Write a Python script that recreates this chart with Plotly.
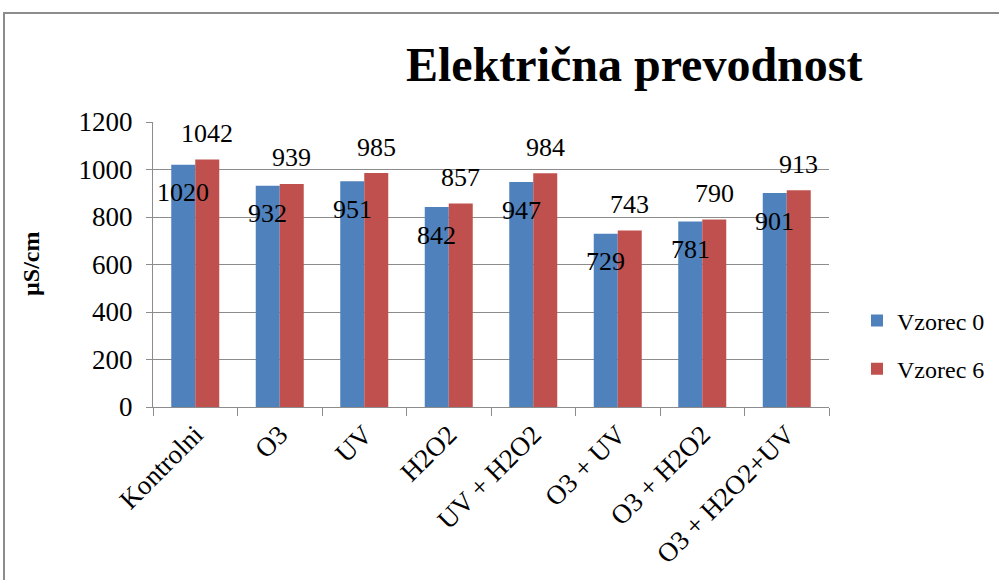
import plotly.graph_objects as go

categories = ["Kontrolni", "O3", "UV", "H2O2", "UV + H2O2", "O3 + UV", "O3 + H2O2", "O3 + H2O2+UV"]
vzorec0 = [1020, 932, 951, 842, 947, 729, 781, 901]
vzorec6 = [1042, 939, 985, 857, 984, 743, 790, 913]
series_names = ["Vzorec 0", "Vzorec 6"]
y_ticks = [0, 200, 400, 600, 800, 1000, 1200]

FONT = "Liberation Serif"
BLUE = "#4F81BD"
RED = "#C0504D"
GRID = "#8c8c8c"

# plot area in pixels
L, R, T, B = 153, 829, 122, 407
W, H = R - L, B - T


def px_x(p):
    return (p - L) / W


def px_y(p):
    return (B - p) / H


fig = go.Figure()
fig.add_trace(go.Bar(x=categories, y=vzorec0, name=series_names[0],
                     marker=dict(color=BLUE, line=dict(width=0)),
                     legendgroup="a"))
fig.add_trace(go.Bar(x=categories, y=vzorec6, name=series_names[1],
                     marker=dict(color=RED, line=dict(width=0)),
                     legendgroup="b"))

annotations = []
# value labels: series 0 sit just under the bar top, series 6 above it
for cat, v in zip(categories, vzorec0):
    annotations.append(dict(x=cat, y=v, xref="x", yref="y", text=str(v),
                            showarrow=False, xshift=-12, yshift=-28,
                            font=dict(family=FONT, size=26, color="black")))
for cat, v in zip(categories, vzorec6):
    annotations.append(dict(x=cat, y=v, xref="x", yref="y", text=str(v),
                            showarrow=False, xshift=12, yshift=26,
                            font=dict(family=FONT, size=26, color="black")))

# chart title
annotations.append(dict(x=px_x(634), y=px_y(64), xref="paper", yref="paper",
                        text="<b>Električna prevodnost</b>", showarrow=False,
                        xanchor="center", yanchor="middle",
                        font=dict(family=FONT, size=48, color="black")))
# y axis title
annotations.append(dict(x=px_x(31), y=px_y(264), xref="paper", yref="paper",
                        text="<b>µS/cm</b>", showarrow=False, textangle=-90,
                        xanchor="center", yanchor="middle",
                        font=dict(family=FONT, size=24, color="black")))

# outer chart frame
shapes = [dict(type="rect", xref="paper", yref="paper",
               x0=px_x(4), x1=px_x(1040), y0=px_y(620), y1=px_y(13),
               line=dict(color=GRID, width=2), fillcolor="rgba(0,0,0,0)", layer="below")]

fig.update_layout(
    width=999, height=580,
    margin=dict(l=L, r=999 - R, t=T, b=580 - B, autoexpand=False),
    paper_bgcolor="white", plot_bgcolor="white",
    barmode="group", bargap=0.432, bargroupgap=0,
    font=dict(family=FONT, size=26, color="black"),
    showlegend=True,
    legend=dict(x=px_x(857), y=px_y(345), xanchor="left", yanchor="middle",
                font=dict(family=FONT, size=24, color="black"),
                traceorder="grouped", tracegroupgap=14,
                bgcolor="rgba(0,0,0,0)"),
    annotations=annotations,
    shapes=shapes,
)
fig.update_xaxes(showgrid=False, showline=True, linecolor=GRID, linewidth=1,
                 ticks="outside", tickson="boundaries", ticklen=8, tickcolor=GRID,
                 tickangle=-45, automargin=False,
                 tickfont=dict(family=FONT, size=27, color="black"))
fig.update_yaxes(range=[0, 1200], tickvals=y_ticks, showgrid=True, gridcolor=GRID,
                 gridwidth=1, showline=True, linecolor=GRID, linewidth=1,
                 ticks="outside", ticklen=6, tickcolor=GRID, zeroline=False,
                 automargin=False, ticklabelstandoff=8,
                 tickfont=dict(family=FONT, size=27, color="black"))

fig.write_html("out.html")
